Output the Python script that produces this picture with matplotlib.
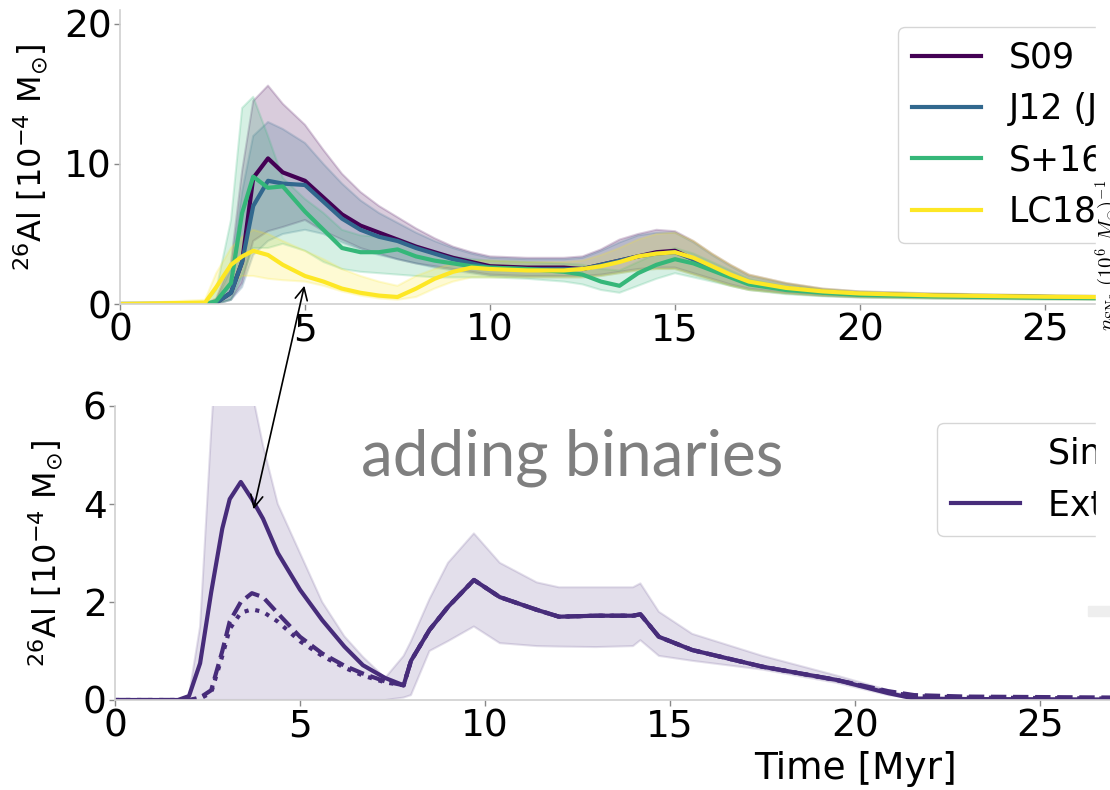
import matplotlib.pyplot as plt
from matplotlib.lines import Line2D
from matplotlib.patches import Rectangle, FancyArrowPatch

# ---- upper panel: 26Al mass for four yield sets [1e-4 Msun] ----
t_top = [0, 2.3, 2.6, 3.0, 3.3, 3.6, 4.0, 4.4, 5.0, 5.5, 6.0, 6.5, 7.0, 7.5, 8.0, 8.5,
         9.0, 9.5, 10.0, 11.0, 12.0, 12.5, 13.0, 13.5, 14.0, 14.5, 15.0, 15.5, 16.0,
         16.5, 17.0, 18.0, 19.0, 20.0, 22.0, 25.0, 30.0, 40.0]

s09 = [0, 0, 0.1, 0.8, 3.0, 9.0, 10.4, 9.4, 8.8, 7.6, 6.4, 5.6, 5.1, 4.6, 4.1, 3.7,
       3.3, 3.0, 2.7, 2.6, 2.6, 2.5, 2.8, 3.1, 3.4, 3.7, 3.8, 3.2, 2.6, 2.0, 1.5,
       1.1, 0.85, 0.7, 0.6, 0.5, 0.4, 0.3]
s09_hi = [0, 0, 0.4, 3.0, 9.5, 14.5, 15.6, 14.3, 12.8, 11.0, 9.3, 8.0, 7.0, 6.2, 5.4, 4.7,
          4.1, 3.7, 3.4, 3.3, 3.3, 3.4, 3.9, 4.6, 5.0, 5.3, 5.2, 4.5, 3.6, 2.8, 2.1,
          1.5, 1.1, 0.9, 0.75, 0.62, 0.5, 0.4]
s09_lo = [0, 0, 0, 0.3, 1.5, 4.5, 5.2, 5.5, 6.0, 5.2, 4.6, 4.0, 3.6, 3.2, 2.9, 2.7,
          2.5, 2.3, 2.1, 2.0, 2.0, 2.0, 2.1, 2.3, 2.5, 2.6, 2.6, 2.2, 1.8, 1.4, 1.1,
          0.8, 0.6, 0.5, 0.42, 0.36, 0.3, 0.2]

j12 = [0, 0, 0.1, 0.8, 3.0, 7.0, 8.8, 8.6, 8.5, 7.3, 6.1, 5.3, 4.8, 4.5, 4.0, 3.6,
       3.2, 2.9, 2.6, 2.5, 2.5, 2.5, 2.8, 3.1, 3.4, 3.6, 3.7, 3.2, 2.6, 2.0, 1.5,
       1.1, 0.85, 0.7, 0.6, 0.5, 0.4, 0.3]
j12_hi = [0, 0, 0.3, 2.5, 8.0, 12.0, 13.0, 12.5, 11.5, 10.0, 8.6, 7.4, 6.5, 5.8, 5.1, 4.5,
          4.0, 3.6, 3.3, 3.2, 3.2, 3.3, 3.8, 4.4, 4.9, 5.1, 5.1, 4.4, 3.5, 2.7, 2.0,
          1.45, 1.05, 0.88, 0.72, 0.6, 0.48, 0.38]
j12_lo = [0, 0, 0, 0.3, 1.2, 3.5, 4.5, 5.0, 5.3, 5.0, 4.4, 3.9, 3.5, 3.2, 2.9, 2.6,
          2.4, 2.2, 2.0, 1.9, 1.9, 1.9, 2.0, 2.2, 2.4, 2.5, 2.5, 2.1, 1.7, 1.3, 1.0,
          0.75, 0.58, 0.48, 0.4, 0.34, 0.28, 0.2]

s16 = [0, 0, 0.2, 1.5, 6.5, 9.1, 8.3, 8.4, 6.6, 5.3, 4.0, 3.7, 3.7, 3.9, 3.4, 3.1,
       2.9, 2.7, 2.6, 2.5, 2.3, 2.1, 1.6, 1.3, 2.2, 2.8, 3.2, 2.9, 2.4, 1.9, 1.4,
       1.0, 0.8, 0.65, 0.55, 0.45, 0.35, 0.25]
s16_hi = [0, 0.1, 1.0, 6.0, 14.0, 14.8, 12.0, 9.0, 7.5, 6.5, 5.3, 4.9, 4.8, 4.7, 4.2, 3.7,
          3.4, 3.2, 3.1, 3.0, 2.9, 2.8, 2.5, 2.4, 3.0, 3.6, 4.0, 3.6, 3.0, 2.4, 1.8,
          1.3, 1.0, 0.82, 0.7, 0.58, 0.46, 0.35]
s16_lo = [0, 0, 0, 0.3, 2.0, 4.0, 4.0, 4.3, 3.8, 3.0, 2.5, 2.3, 2.2, 2.1, 2.0, 1.9,
          1.9, 1.9, 1.9, 1.8, 1.6, 1.4, 1.0, 0.8, 1.3, 1.8, 2.2, 1.9, 1.6, 1.3, 1.0,
          0.7, 0.55, 0.45, 0.38, 0.32, 0.26, 0.18]

lc18 = [0, 0.1, 1.2, 2.8, 3.4, 3.8, 3.5, 2.8, 2.0, 1.6, 1.1, 0.8, 0.6, 0.5, 1.1, 1.8,
        2.3, 2.6, 2.5, 2.4, 2.4, 2.5, 2.7, 3.0, 3.4, 3.6, 3.7, 3.3, 2.7, 2.1, 1.6,
        1.15, 0.9, 0.75, 0.62, 0.52, 0.42, 0.3]
lc18_hi = [0, 0.3, 2.2, 4.0, 4.8, 5.3, 5.0, 4.5, 3.8, 3.2, 2.5, 2.0, 1.6, 1.3, 2.0, 2.5,
           2.9, 3.1, 3.1, 3.0, 3.0, 3.1, 3.5, 4.0, 4.6, 5.0, 5.1, 4.5, 3.6, 2.8, 2.1,
           1.5, 1.1, 0.9, 0.75, 0.62, 0.5, 0.4]
lc18_lo = [0, 0, 0.3, 1.5, 2.0, 2.0, 1.8, 1.7, 1.6, 1.3, 0.9, 0.6, 0.4, 0.3, 0.5, 1.1,
           1.6, 1.9, 1.9, 1.9, 1.9, 1.9, 2.0, 2.2, 2.4, 2.5, 2.5, 2.1, 1.7, 1.3, 1.0,
           0.75, 0.58, 0.48, 0.4, 0.34, 0.28, 0.2]

top_labels = ["S09", "J12 (J12)", "S+16", "LC18"]
top_colors = ["#440154", "#31688e", "#35b779", "#fde725"]

# ---- lower panel: single stars vs. with binaries ----
t_bot = [0, 1.7, 2.0, 2.3, 2.6, 2.9, 3.1, 3.4, 3.7, 4.0, 4.4, 5.0, 5.6, 6.2, 6.7, 7.3,
         7.8, 8.0, 8.5, 9.0, 9.7, 10.4, 11.4, 12.0, 13.0, 14.0, 14.2, 14.7, 15.6, 17.5,
         19.5, 20.9, 21.6, 23.0, 27.0, 40.0]

solid = [0, 0, 0.08, 0.75, 2.2, 3.5, 4.1, 4.45, 4.1, 3.7, 3.0, 2.25, 1.63, 1.09, 0.71,
         0.45, 0.3, 0.8, 1.43, 1.9, 2.45, 2.1, 1.84, 1.7, 1.72, 1.72, 1.75, 1.29, 1.02,
         0.68, 0.41, 0.14, 0.03, 0.02, 0.01, 0]
dashed = [0, 0, 0, 0.05, 0.2, 1.0, 1.6, 2.0, 2.18, 2.1, 1.77, 1.29, 0.95, 0.7, 0.54,
          0.38, 0.3, 0.8, 1.43, 1.9, 2.45, 2.1, 1.84, 1.7, 1.72, 1.72, 1.75, 1.29, 1.02,
          0.68, 0.41, 0.18, 0.1, 0.07, 0.05, 0.02]
dotted = [0, 0, 0, 0.03, 0.15, 0.9, 1.45, 1.78, 1.85, 1.8, 1.6, 1.2, 0.9, 0.66, 0.5,
          0.36, 0.3, 0.8, 1.43, 1.9, 2.45, 2.1, 1.84, 1.7, 1.72, 1.72, 1.75, 1.29, 1.02,
          0.68, 0.41, 0.16, 0.08, 0.05, 0.03, 0.01]
band_hi = [0, 0, 0.1, 1.5, 5.5, 9.0, 9.5, 9.5, 6.3, 5.2, 4.0, 3.0, 2.0, 1.3, 0.88,
           0.45, 0.9, 1.2, 2.06, 2.8, 3.4, 2.8, 2.4, 2.3, 2.3, 2.3, 2.38, 1.8, 1.35,
           0.9, 0.5, 0.2, 0.05, 0.03, 0.02, 0]
band_lo = [0, 0, 0, 0, 0, 0, 0, 0, 0, 0, 0, 0, 0, 0, 0,
           0, 0.05, 0.1, 1.0, 1.2, 1.5, 1.16, 1.1, 1.09, 1.08, 1.1, 1.22, 0.9, 0.8,
           0.62, 0.35, 0.1, 0.02, 0.01, 0.01, 0]

bot_labels = ["Single stars", "Extended binaries"]
bot_color = "#472c7a"

W, H = 1110, 790
ylabel = r"$^{26}$Al [10$^{-4}$ M$_{\odot}$]"


def style_axis(ax):
    for side in ["top", "right"]:
        ax.spines[side].set_visible(False)
    for side in ["left", "bottom"]:
        ax.spines[side].set_color("#d0d0d0")
        ax.spines[side].set_linewidth(1.2)
    ax.tick_params(labelsize=27, length=4, width=1, color="#888888", pad=2)
    ax.set_xlim(0, 40)
    ax.set_xticks([0, 5, 10, 15, 20, 25, 30, 35, 40])


fig = plt.figure(figsize=(W / 100, H / 100), dpi=100)

# upper panel, wider than the canvas so the right part is cut off
ax1 = fig.add_axes([120 / W, 1 - 304 / H, 1480 / W, 294 / H])
style_axis(ax1)
tops = [(s09, s09_lo, s09_hi), (j12, j12_lo, j12_hi), (s16, s16_lo, s16_hi), (lc18, lc18_lo, lc18_hi)]
for (mid, lo, hi), c in zip(tops, top_colors):
    ax1.fill_between(t_top, lo, hi, color=c, alpha=0.2, lw=1.5)
for (mid, lo, hi), c, lab in zip(tops, top_colors, top_labels):
    ax1.plot(t_top, mid, color=c, lw=3, label=lab)
ax1.set_ylim(0, 21)
ax1.set_yticks([0, 10, 20])
ax1.set_ylabel(ylabel, fontsize=23)
ax1.yaxis.set_label_coords(-0.047, 0.5)
ax1.legend(loc="upper left", bbox_to_anchor=(898 / W, 1 - 27 / H),
           bbox_transform=fig.transFigure, borderaxespad=0, fontsize=25)

# lower panel
ax2 = fig.add_axes([115 / W, 1 - 700 / H, 1480 / W, 294 / H])
style_axis(ax2)
ax2.fill_between(t_bot, band_lo, band_hi, color=bot_color, alpha=0.15, lw=1.5)
ax2.plot(t_bot, dotted, color=bot_color, lw=3, ls=":")
ax2.plot(t_bot, dashed, color=bot_color, lw=3, ls="--")
ax2.plot(t_bot, solid, color=bot_color, lw=3)
ax2.set_ylim(0, 6)
ax2.set_yticks([0, 2, 4, 6])
ax2.set_ylabel(ylabel, fontsize=23)
ax2.yaxis.set_label_coords(-0.034, 0.5)
ax2.set_xlabel("Time [Myr]", fontsize=27, labelpad=5)
handles = [Line2D([], [], color="none", lw=3), Line2D([], [], color=bot_color, lw=3)]
ax2.legend(handles, bot_labels, loc="upper left", bbox_to_anchor=(937 / W, 1 - 423 / H),
           bbox_transform=fig.transFigure, borderaxespad=0, fontsize=25)

# slide annotations
fig.text(572 / W, 1 - 458 / H, "adding binaries", ha="center", va="center",
         fontsize=46, color="#7f7f7f", family="Lato")
arrow = FancyArrowPatch((305 / W, 1 - 283 / H), (253 / W, 1 - 512 / H),
                        transform=fig.transFigure, arrowstyle="<->",
                        mutation_scale=22, lw=1.2, color="black")
fig.patches.append(arrow)

# neighbouring picture on the slide covering the right edge
fig.patches.append(Rectangle((1096 / W, 1 - 605 / H), 20 / W, 605 / H,
                             transform=fig.transFigure, color="white", zorder=10))
fig.patches.append(Rectangle((1088 / W, 1 - 616 / H), 30 / W, 10 / H,
                             transform=fig.transFigure, color="#eeeeee", zorder=10))
fig.text(1093 / W, 1 - 255 / H, r"$n_{\rm SNe}\ (10^6\ M_{\odot})^{-1}$",
         rotation=90, ha="left", va="center", fontsize=15, zorder=11,
         math_fontfamily="cm")

fig.savefig("out.png", dpi=100)
